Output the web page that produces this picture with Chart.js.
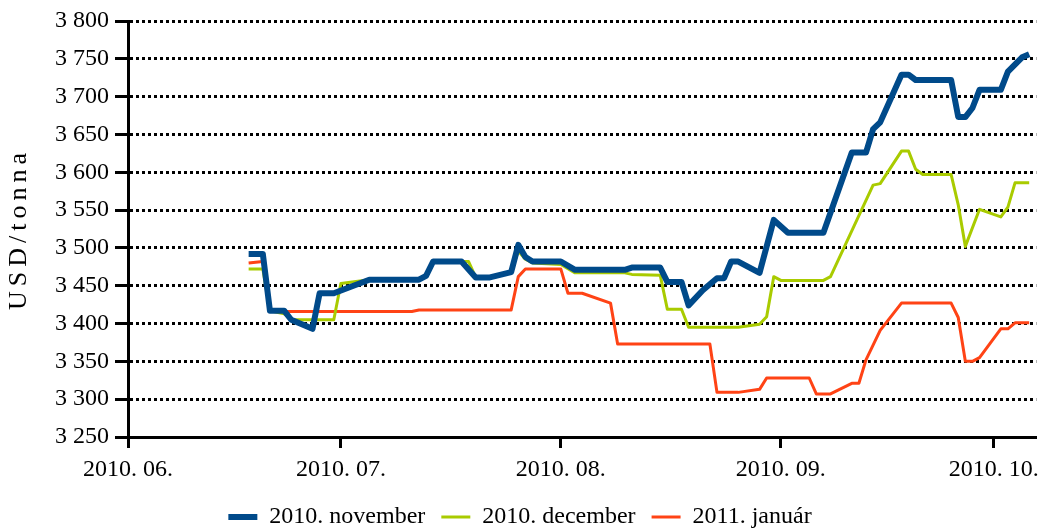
<!DOCTYPE html>
<html>
<head>
<meta charset="utf-8">
<script src="https://cdn.jsdelivr.net/npm/chart.js@4/dist/chart.umd.min.js"></script>
<style>
  html, body { margin: 0; padding: 0; background: #fff; }
  #wrap { width: 1046px; height: 528px; }
</style>
</head>
<body>
<div id="wrap"><canvas id="canvas" width="1046" height="528"></canvas></div>
<script>
// x axis: days counted from 2010-06-01
var monthStarts = ['06-01', '07-01', '08-01', '09-01', '10-01'];
var monthLabels = ['2010. 06.', '2010. 07.', '2010. 08.', '2010. 09.', '2010. 10.'];
var seriesNames = ['2010. november', '2010. december', '2011. január'];

var novDates = ['06-18','06-20','06-21','06-23','06-24','06-27','06-28','06-30','07-05','07-12','07-13','07-14','07-18','07-20','07-22','07-25','07-26','07-27','07-28','08-01','08-03','08-10','08-11','08-15','08-16','08-18','08-19','08-21','08-23','08-24','08-25','08-26','08-29','08-31','09-02','09-07','09-11','09-13','09-14','09-15','09-18','09-19','09-20','09-25','09-26','09-27','09-28','09-29','10-02','10-03','10-05','10-06'];
var novValues = [3492,3492,3417,3417,3405,3393,3440,3440,3458,3458,3463,3482,3482,3461,3461,3468,3504,3488,3482,3482,3471,3471,3474,3474,3455,3455,3424,3444,3460,3460,3482,3482,3467,3537,3520,3520,3626,3626,3657,3666,3729,3729,3722,3722,3673,3673,3685,3709,3709,3733,3752,3756];

var decDates = ['06-18','06-20','06-21','06-23','06-24','06-30','07-01','07-05','07-12','07-13','07-14','07-19','07-20','07-22','07-25','07-26','07-27','07-28','08-01','08-03','08-10','08-11','08-15','08-16','08-18','08-19','08-26','08-29','08-30','08-31','09-01','09-07','09-08','09-14','09-15','09-18','09-19','09-20','09-21','09-25','09-26','09-27','09-29','10-02','10-03','10-04','10-06'];
var decValues = [3472,3472,3417,3413,3405,3405,3453,3458,3458,3465,3482,3482,3461,3461,3468,3496,3485,3480,3478,3467,3467,3465,3464,3419,3419,3395,3395,3399,3409,3462,3457,3457,3462,3583,3585,3628,3628,3604,3597,3597,3557,3502,3551,3541,3554,3586,3586];

var janDates = ['06-18','06-20','06-21','06-23','07-11','07-12','07-25','07-26','07-27','08-01','08-02','08-04','08-08','08-09','08-22','08-23','08-26','08-29','08-30','09-05','09-06','09-08','09-11','09-12','09-13','09-15','09-18','09-25','09-26','09-27','09-28','09-29','10-02','10-03','10-04','10-06'];
var janValues = [3480,3482,3416,3416,3416,3418,3418,3462,3472,3472,3440,3440,3427,3373,3373,3309,3309,3313,3328,3328,3307,3307,3321,3321,3352,3391,3427,3427,3408,3350,3350,3355,3393,3393,3401,3401];

var yTicks = { min: 3250, max: 3800, step: 50 };

var monthOffset = { '06': 0, '07': 30, '08': 61, '09': 92, '10': 122 };
function dayOf(s) {
    var p = s.split('-');
    return monthOffset[p[0]] + parseInt(p[1], 10) - 1;
}
function toPoints(dates, values) {
    return dates.map(function (d, i) { return { x: dayOf(d), y: values[i] }; });
}
function fmt(v) {
    return String(v).replace(/\B(?=(\d{3})+(?!\d))/g, ' ');
}

var serif = "'Liberation Serif', 'Times New Roman', serif";

// the title in the original is set quite loosely
var titleSpacing = {
    id: 'titleSpacing',
    afterUpdate: function (chart) {
        var s = chart.scales.y;
        if (s && !s._spaced) {
            var orig = s.drawTitle.bind(s);
            s.drawTitle = function () {
                chart.ctx.save();
                chart.ctx.letterSpacing = '5px';
                orig();
                chart.ctx.restore();
            };
            s._spaced = true;
        }
    }
};

var ctx = document.getElementById('canvas').getContext('2d');
var chart = new Chart(ctx, {
    type: 'line',
    data: {
        datasets: [
            { label: seriesNames[0], data: toPoints(novDates, novValues), borderColor: '#004A8A', backgroundColor: '#004A8A', borderWidth: 6, pointStyle: 'line' },
            { label: seriesNames[1], data: toPoints(decDates, decValues), borderColor: '#A9CB00', backgroundColor: '#A9CB00', borderWidth: 3, pointStyle: 'line' },
            { label: seriesNames[2], data: toPoints(janDates, janValues), borderColor: '#FF4315', backgroundColor: '#FF4315', borderWidth: 3, pointStyle: 'line' }
        ]
    },
    options: {
        responsive: false,
        animation: false,
        elements: { point: { radius: 0, hoverRadius: 0 }, line: { tension: 0, borderJoinStyle: 'round', borderCapStyle: 'butt' } },
        layout: { padding: { top: 21, right: 6, left: 0, bottom: -11 } },
        plugins: {
            tooltip: { enabled: false },
            legend: {
                position: 'bottom',
                labels: {
                    usePointStyle: true,
                    pointStyleWidth: 29,
                    padding: 16,
                    color: '#000',
                    font: { family: serif, size: 24 }
                }
            }
        },
        scales: {
            x: {
                type: 'linear',
                min: 0,
                max: 128,
                afterBuildTicks: function (scale) {
                    scale.ticks = monthStarts.map(function (m) { return { value: dayOf(m) }; });
                },
                afterFit: function (scale) { scale.height = 52; },
                ticks: {
                    autoSkip: false,
                    maxRotation: 0,
                    padding: 7,
                    color: '#000',
                    font: { family: serif, size: 24 },
                    callback: function (v, i) { return monthLabels[i]; }
                },
                grid: { drawOnChartArea: false, drawTicks: true, tickLength: 11, tickWidth: 3, tickColor: '#000' },
                border: { display: true, color: '#000', width: 3 }
            },
            y: {
                min: yTicks.min,
                max: yTicks.max,
                afterFit: function (scale) { scale.width = 128; },
                ticks: {
                    stepSize: yTicks.step,
                    padding: 6,
                    color: '#000',
                    font: { family: serif, size: 24 },
                    callback: function (v) { return fmt(v); }
                },
                title: {
                    display: true,
                    text: 'USD/tonna',
                    color: '#000',
                    padding: { top: 4, bottom: 0 },
                    font: { family: serif, size: 26 }
                },
                grid: {
                    color: function (c) { return c.tick && c.tick.value === yTicks.min ? 'rgba(0,0,0,0)' : '#000'; },
                    lineWidth: 3,
                    tickLength: 13,
                    tickWidth: 3,
                    tickColor: '#000'
                },
                border: { display: true, color: '#000', width: 3, dash: [3, 3] }
            }
        }
    },
    plugins: [titleSpacing]
});
</script>
</body>
</html>
